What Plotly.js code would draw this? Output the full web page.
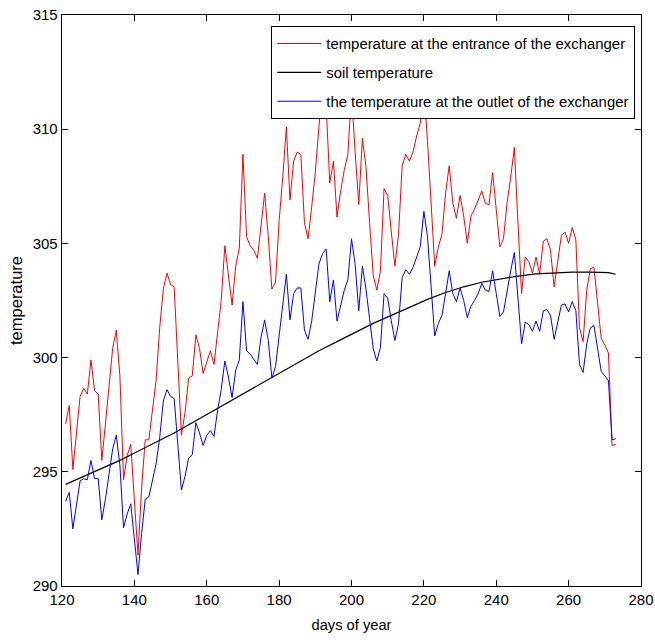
<!DOCTYPE html>
<html>
<head>
<meta charset="utf-8">
<script src="https://cdn.plot.ly/plotly-3.0.1.min.js"></script>
<style>html,body{margin:0;padding:0;background:#fff;}#chart{width:655px;height:642px;}</style>
</head>
<body>
<div id="chart"></div>
<script>
// day of year for the exchanger series (121 .. 273)
const firstDay = 121;
const entranceTemp = [
297.1,297.9,295.1,296.8,298.3,298.65,298.4,299.9,298.55,298.4,
295.5,297.1,298.8,300.4,301.2,299.2,294.65,295.7,296.2,293.8,
291.35,294.3,296.4,296.4,297.8,299.0,301.3,303.0,303.7,303.2,
303.1,300.0,296.6,297.6,299.1,299.2,301.0,300.4,299.3,299.8,
300.3,299.7,301.2,302.5,304.9,303.5,302.3,304.0,304.8,308.9,
305.3,304.9,304.7,304.35,305.9,307.2,305.3,303.0,303.3,306.0,
307.9,310.1,306.9,308.6,309.0,308.9,305.9,305.2,306.6,308.1,
310.1,311.8,311.0,307.65,308.6,306.15,307.3,308.2,308.9,311.6,
309.0,306.7,309.6,308.35,305.9,303.6,302.95,303.8,307.4,307.1,
305.5,304.0,305.4,308.4,308.9,308.6,309.0,309.7,310.25,311.8,
309.5,306.5,304.0,304.85,305.4,307.2,308.4,306.75,306.1,307.1,
306.2,305.0,306.2,306.5,306.9,307.3,306.75,306.7,308.1,306.45,
304.85,305.2,306.8,307.9,309.2,305.9,302.8,304.4,304.2,303.7,
304.4,303.65,305.1,305.2,304.7,303.1,304.25,305.35,305.5,305.0,
305.7,305.15,301.3,300.7,302.95,303.9,303.95,302.35,300.85,300.55,
300.2,296.15,296.2
];
const outletTemp = [
293.7,294.1,292.5,293.6,294.6,294.7,294.65,295.5,294.7,294.7,
292.9,293.8,295.0,296.0,296.6,295.3,292.55,293.15,293.6,291.9,
290.5,292.3,293.8,293.9,294.6,295.35,296.5,298.1,298.6,298.3,
298.2,296.0,294.2,294.8,295.6,295.75,297.15,296.7,296.15,296.6,
296.8,296.55,297.7,298.6,299.85,299.15,298.25,299.45,299.9,302.45,
300.3,300.15,299.95,299.7,300.9,301.65,300.75,299.1,299.6,300.9,
302.3,303.65,301.65,302.8,303.05,303.05,301.2,300.8,301.6,302.9,
304.1,304.55,304.75,302.45,303.4,301.6,302.35,302.95,303.4,305.2,
304.1,302.05,304.0,303.0,301.7,300.4,299.85,300.45,302.8,302.6,
301.6,300.75,301.5,303.5,303.85,303.65,303.95,304.4,304.85,306.4,
305.3,303.1,300.95,301.5,301.85,302.8,303.8,302.8,302.45,303.05,
302.5,301.75,302.25,302.5,302.8,303.25,302.95,302.9,303.8,302.8,
301.8,302.0,302.95,303.8,304.6,302.65,300.6,301.55,301.45,301.15,
301.6,301.15,302.05,302.1,301.85,300.8,301.5,302.3,302.35,302.0,
302.45,302.05,299.7,299.35,300.6,301.3,301.4,300.45,299.4,299.2,
299.0,296.4,296.45
];
const soilDays = [121,126,131,136,141,146,151,156,161,166,171,176,181,186,191,196,201,206,211,216,221,226,231,236,241,246,251,256,261,266,271,273];
const soilTemp = [294.45,294.8,295.15,295.5,295.9,296.3,296.7,297.15,297.6,298.05,298.5,298.95,299.4,299.85,300.3,300.7,301.1,301.5,301.85,302.2,302.55,302.85,303.1,303.3,303.45,303.57,303.67,303.72,303.74,303.74,303.72,303.65];
const seriesNames = [
  "temperature at the entrance of the exchanger",
  "soil temperature",
  "the temperature at the outlet of the exchanger"
];
const xTicks = [120,140,160,180,200,220,240,260,280];
const yTicks = [290,295,300,305,310,315];

const days = entranceTemp.map((_, i) => firstDay + i);
const FONT = "'Liberation Sans', Arial, sans-serif";

const traces = [
  {x: days, y: entranceTemp, name: seriesNames[0], legendgroup: "a", mode: "lines", line: {color: "#ff0000", width: 1}},
  {x: soilDays, y: soilTemp, name: seriesNames[1], legendgroup: "b", mode: "lines", line: {color: "#000000", width: 1.2}},
  {x: days, y: outletTemp, name: seriesNames[2], legendgroup: "c", mode: "lines", line: {color: "#0000ff", width: 1}}
];

const axisCommon = {
  showline: true, linecolor: "#000", linewidth: 1.3, mirror: "ticks",
  ticks: "inside", ticklen: 6, tickcolor: "#000", tickwidth: 1,
  showgrid: false, zeroline: false, automargin: false,
  tickfont: {family: FONT, size: 15, color: "#000"}
};

const layout = {
  width: 655, height: 642,
  margin: {l: 62, r: 14, t: 15, b: 56},
  paper_bgcolor: "#fff", plot_bgcolor: "#fff",
  font: {family: FONT, color: "#000"},
  xaxis: Object.assign({}, axisCommon, {
    range: [120, 280], tickvals: xTicks, ticktext: xTicks.map(String),
    title: {text: "days of year", font: {family: FONT, size: 14.7, color: "#000"}, standoff: 12}
  }),
  yaxis: Object.assign({}, axisCommon, {
    range: [290, 315], tickvals: yTicks, ticktext: yTicks.map(String),
    ticklabelstandoff: 0,
    title: {text: "temperature", font: {family: FONT, size: 16.5, color: "#000"}, standoff: 6}
  }),
  showlegend: true,
  legend: {
    x: 0.9896, xanchor: "right", y: 0.9807, yanchor: "top",
    bgcolor: "#fff", bordercolor: "#000", borderwidth: 1.3,
    font: {family: FONT, size: 14.9, color: "#000"},
    traceorder: "grouped", tracegroupgap: 6.5, itemwidth: 44
  }
};

Plotly.newPlot("chart", traces, layout, {staticPlot: true, displayModeBar: false});
</script>
</body>
</html>
